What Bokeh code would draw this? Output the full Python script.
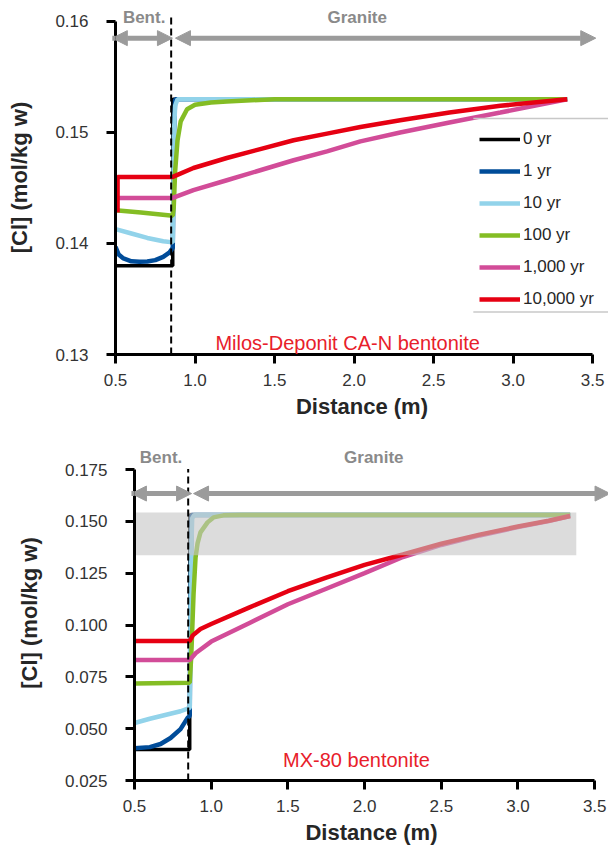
import math
from bokeh.plotting import figure
from bokeh.layouts import column, row
from bokeh.models import Range1d, FixedTicker, Legend, LegendItem, Arrow, NormalHead, Label
from bokeh.embed import file_html
from bokeh.resources import INLINE

FONT = "Liberation Sans"
nan = math.nan

# ---- series definitions -------------------------------------------------
series_labels = ["0 yr", "1 yr", "10 yr", "100 yr", "1,000 yr", "10,000 yr"]
series_colors = ["#000000", "#004c99", "#92d3ea", "#84bd24", "#d24c98", "#e60012"]
series_widths = [3.5, 4.5, 4.5, 4.5, 4.5, 4.5]

# interface between bentonite and granite (m)
interface_x = 0.85

# ---- Milos-Deponit CA-N bentonite: [Cl] (mol/kg w) vs distance (m) -------
milos_x_0 = [0.5, 0.86, 0.86, 3.34]
milos_y_0 = [0.138, 0.138, 0.153, 0.153]
milos_x_1 = [0.5, 0.506, nan, 0.5, 0.52, 0.55, 0.60, 0.65, 0.70, 0.75, 0.80, 0.84, 0.86, 0.868, 0.875, 3.34]
milos_y_1 = [0.153, 0.153, nan, 0.1397, 0.1390, 0.13865, 0.1384, 0.13835, 0.13838, 0.1385, 0.1388, 0.1392, 0.1396, 0.1500, 0.1530, 0.1530]
milos_x_10 = [0.5, 0.6, 0.7, 0.8, 0.86, 0.868, 0.875, 0.89, 3.34]
milos_y_10 = [0.1413, 0.1409, 0.1405, 0.1402, 0.1401, 0.1500, 0.1524, 0.1530, 0.1530]
milos_x_100 = [0.5, 0.66, 0.86, 0.866, 0.875, 0.89, 0.91, 0.95, 1.0, 1.1, 1.2, 1.5, 3.34]
milos_y_100 = [0.1430, 0.1428, 0.1425, 0.1432, 0.1465, 0.1493, 0.1510, 0.1521, 0.1525, 0.1527, 0.1528, 0.1530, 0.1530]
milos_x_1000 = [0.51, 0.86, 0.99, 1.2, 1.41, 1.62, 1.83, 2.04, 2.29, 2.6, 2.92, 3.34]
milos_y_1000 = [0.1441, 0.1441, 0.1448, 0.1457, 0.1466, 0.1475, 0.1483, 0.1492, 0.1500, 0.1509, 0.1518, 0.1530]
milos_x_10000 = [0.513, 0.513, 0.86, 0.99, 1.2, 1.41, 1.62, 1.83, 2.04, 2.29, 2.6, 2.92, 3.34]
milos_y_10000 = [0.1428, 0.1460, 0.1460, 0.1468, 0.1477, 0.1485, 0.1493, 0.1499, 0.1505, 0.1511, 0.1518, 0.1524, 0.1530]

# ---- MX-80 bentonite ----------------------------------------------------
mx_x_0 = [0.5, 0.86, 0.86, 3.34]
mx_y_0 = [0.040, 0.040, 0.153, 0.153]
mx_x_1 = [0.5, 0.6, 0.67, 0.735, 0.8, 0.845, 0.86, 0.866, 0.872, 3.34]
mx_y_1 = [0.0406, 0.0411, 0.0426, 0.0455, 0.0498, 0.0551, 0.0562, 0.120, 0.153, 0.153]
mx_x_10 = [0.5, 0.6, 0.7, 0.8, 0.86, 0.868, 0.876, 0.89, 3.34]
mx_y_10 = [0.0527, 0.0548, 0.0566, 0.0584, 0.0600, 0.130, 0.1515, 0.1530, 0.1530]
mx_x_100 = [0.5, 0.86, 0.87, 0.885, 0.898, 0.911, 0.93, 0.976, 1.015, 1.08, 1.2, 3.34]
mx_y_100 = [0.0718, 0.0722, 0.085, 0.115, 0.1326, 0.1394, 0.1447, 0.1495, 0.1519, 0.1529, 0.1530, 0.1530]
mx_x_1000 = [0.5, 0.86, 0.9, 1.0, 1.25, 1.5, 1.75, 2.0, 2.25, 2.5, 2.75, 3.0, 3.2, 3.34]
mx_y_1000 = [0.0831, 0.0831, 0.0865, 0.0920, 0.1010, 0.1100, 0.1175, 0.1250, 0.1328, 0.1386, 0.1432, 0.1472, 0.1501, 0.1526]
mx_x_10000 = [0.5, 0.86, 0.88, 0.93, 1.0, 1.25, 1.5, 1.75, 2.0, 2.25, 2.5, 2.75, 3.0, 3.2, 3.34]
mx_y_10000 = [0.0923, 0.0923, 0.0950, 0.0981, 0.1005, 0.1085, 0.1163, 0.1228, 0.1290, 0.1340, 0.1392, 0.1436, 0.1475, 0.1503, 0.1526]

# measured granite porewater range (shaded band)
mx_band_x = [0.5, 3.38]
mx_band_y = [0.1336, 0.1543]

# ---- axis ticks ---------------------------------------------------------
x_ticks = [0.5, 1.0, 1.5, 2.0, 2.5, 3.0, 3.5]
x_tick_labels = ["0.5", "1.0", "1.5", "2.0", "2.5", "3.0", "3.5"]
milos_y_ticks = [0.13, 0.14, 0.15, 0.16]
milos_y_tick_labels = ["0.13", "0.14", "0.15", "0.16"]
mx_y_ticks = [0.025, 0.050, 0.075, 0.100, 0.125, 0.150, 0.175]
mx_y_tick_labels = ["0.025", "0.050", "0.075", "0.100", "0.125", "0.150", "0.175"]

GRAY = "#9b9b9b"
LABEL_GRAY = "#8a8a8a"
RED_TEXT = "#e8202a"


def style_axes(p, yticks, ylabels, ybounds):
    p.xaxis.ticker = FixedTicker(ticks=x_ticks)
    p.xaxis.major_label_overrides = dict(zip(x_ticks, x_tick_labels))
    p.yaxis.ticker = FixedTicker(ticks=yticks)
    p.yaxis.major_label_overrides = dict(zip(yticks, ylabels))
    p.xaxis.bounds = (x_ticks[0], x_ticks[-1])
    p.yaxis.bounds = ybounds
    for ax in (p.xaxis[0], p.yaxis[0]):
        ax.axis_line_width = 3
        ax.axis_line_color = "black"
        ax.major_tick_line_width = 3
        ax.major_tick_line_color = "black"
        ax.major_tick_in = 0
        ax.major_tick_out = 9
        ax.minor_tick_line_color = None
        ax.major_label_text_font = FONT
        ax.major_label_text_font_size = "17px"
        ax.major_label_text_color = "#333333"
        ax.axis_label_text_font = FONT
        ax.axis_label_text_font_size = "22px"
        ax.axis_label_text_font_style = "bold"
        ax.axis_label_text_color = "#262626"
    p.xaxis.major_label_standoff = 10
    p.xaxis.axis_label_standoff = 5
    p.yaxis.major_label_standoff = 18
    p.yaxis.axis_label_standoff = 20
    p.xaxis.axis_label = "Distance (m)"
    p.yaxis.axis_label = "[Cl] (mol/kg w)"
    p.xgrid.grid_line_color = None
    p.ygrid.grid_line_color = None
    p.outline_line_color = None


def add_arrow(p, x0, x1, y):
    p.add_layout(Arrow(
        start=NormalHead(size=15, fill_color=GRAY, line_color=GRAY, line_width=1),
        end=NormalHead(size=15, fill_color=GRAY, line_color=GRAY, line_width=1),
        x_start=x0, y_start=y, x_end=x1, y_end=y,
        line_color=GRAY, line_width=5))


def add_text(p, x, y, text, color, size, bold=False):
    p.add_layout(Label(x=x, y=y, text=text, text_font=FONT, text_font_size=size,
                       text_font_style="bold" if bold else "normal", text_color=color,
                       text_align="center", text_baseline="middle"))


# ================= Milos-Deponit CA-N panel =================
p1 = figure(frame_width=493, frame_height=354, min_border_left=115, min_border_right=0,
            min_border_top=0, min_border_bottom=91,
            x_range=Range1d(0.5, 3.6), y_range=Range1d(0.13, 0.16189),
            output_backend="svg", toolbar_location=None, background_fill_color="white")
style_axes(p1, milos_y_ticks, milos_y_tick_labels, (0.13, 0.16))

milos_series = [(milos_x_0, milos_y_0), (milos_x_1, milos_y_1), (milos_x_10, milos_y_10),
                (milos_x_100, milos_y_100), (milos_x_1000, milos_y_1000), (milos_x_10000, milos_y_10000)]
renderers = []
for (xs, ys), c, w in zip(milos_series, series_colors, series_widths):
    renderers.append(p1.line(xs, ys, line_color=c, line_width=w))

p1.line([interface_x, interface_x], [0.13, 0.1605], line_color="black", line_width=2, line_dash="7 4")

add_arrow(p1, 0.48, 0.858, 0.1585)
add_arrow(p1, 0.877, 3.52, 0.1585)
add_text(p1, 0.68, 0.16036, "Bent.", LABEL_GRAY, "17px", bold=True)
add_text(p1, 2.02, 0.16036, "Granite", LABEL_GRAY, "17px", bold=True)
add_text(p1, 1.96, 0.1310, "Milos-Deponit CA-N bentonite", RED_TEXT, "20px")

# legend frame lines (top and bottom only)
p1.segment(x0=[2.75, 2.75], y0=[0.15126, 0.13383], x1=[3.7, 3.7], y1=[0.15126, 0.13383],
           line_color="#c8c8c8", line_width=1.5)

legend = Legend(items=[LegendItem(label=l, renderers=[r]) for l, r in zip(series_labels, renderers)],
                location=(364, 45), padding=0, spacing=12, margin=0,
                glyph_width=41, glyph_height=20, label_height=20, label_standoff=3,
                label_text_font=FONT, label_text_font_size="17px", label_text_color="#262626",
                border_line_color=None, background_fill_alpha=0)
p1.add_layout(legend)

# ================= MX-80 panel =================
p2 = figure(frame_width=474, frame_height=335, min_border_left=134, min_border_right=0,
            min_border_top=0, min_border_bottom=70,
            x_range=Range1d(0.5, 3.59), y_range=Range1d(0.025, 0.18658),
            output_backend="svg", toolbar_location=None, background_fill_color="white")
style_axes(p2, mx_y_ticks, mx_y_tick_labels, (0.025, 0.175))

mx_series = [(mx_x_0, mx_y_0), (mx_x_1, mx_y_1), (mx_x_10, mx_y_10),
             (mx_x_100, mx_y_100), (mx_x_1000, mx_y_1000), (mx_x_10000, mx_y_10000)]
for (xs, ys), c, w in zip(mx_series, series_colors, series_widths):
    p2.line(xs, ys, line_color=c, line_width=w)

p2.quad(left=[mx_band_x[0]], right=[mx_band_x[1]], bottom=[mx_band_y[0]], top=[mx_band_y[1]],
        fill_color="#c4c4c4", fill_alpha=0.6, line_color=None)

p2.line([interface_x, interface_x], [0.025, 0.1752], line_color="black", line_width=2, line_dash="7 4")

add_arrow(p2, 0.48, 0.872, 0.1634)
add_arrow(p2, 0.885, 3.6, 0.1634)
add_text(p2, 0.673, 0.1808, "Bent.", LABEL_GRAY, "17px", bold=True)
add_text(p2, 2.06, 0.1808, "Granite", LABEL_GRAY, "17px", bold=True)
add_text(p2, 1.947, 0.0347, "MX-80 bentonite", RED_TEXT, "20px")

# wrap each panel in its own row so the two frames are laid out independently
layout = column(row(p1), row(p2), spacing=0)
open("out.html", "w").write(file_html(layout, INLINE))
